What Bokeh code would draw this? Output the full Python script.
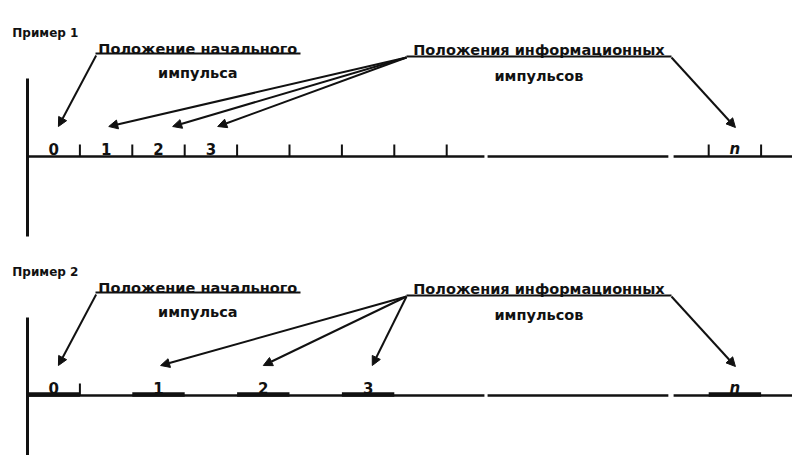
from bokeh.plotting import figure
from bokeh.models import Range1d, Arrow, NormalHead
from bokeh.embed import file_html
from bokeh.resources import INLINE
from bokeh.core.properties import value

# ---- data (x in pulse-slot units, y in panel pixels) ----
titles = ["Пример 1", "Пример 2"]
start_text = ["Положение начального", "импульса"]
info_text = ["Положения информационных", "импульсов"]
pulse_labels = ["0", "1", "2", "3", "n"]
ex1_pulse_slots = [0, 1, 2, 3, 13]
ex1_tick_slots = [1, 2, 3, 4, 5, 6, 7, 8, 13, 14]
ex2_pulse_slots = [0, 2, 4, 6, 13]
ex2_tick_slots = [1]
axis_breaks = [(8.72, 8.78), (12.23, 12.33)]
axis_end = 15.5
panel_offsets = [0, 239]

FONT = value("DejaVu Sans")
INK = "#111111"
SLOT = 52.4
X0 = 27

p = figure(width=792, height=455, x_range=Range1d(-X0 / SLOT, (792 - X0) / SLOT),
           y_range=Range1d(455, 0), min_border=0, toolbar_location=None,
           output_backend="svg", x_axis_location=None, y_axis_location=None)
p.grid.visible = False
p.outline_line_color = None
p.background_fill_color = "white"


def draw_panel(dy, title, pulse_slots, tick_slots, thick, arrow_ends_x, arrow_ends_y):
    base = 156 + dy
    # vertical axis
    p.segment(x0=[0], y0=[78 + dy], x1=[0], y1=[236 + dy], line_width=3, line_color=INK)
    # baseline with breaks
    xs0 = [0] + [b[1] for b in axis_breaks]
    xs1 = [b[0] for b in axis_breaks] + [axis_end]
    p.segment(x0=xs0, y0=[base] * len(xs0), x1=xs1, y1=[base] * len(xs1),
              line_width=2.6, line_color=INK)
    # ticks
    p.segment(x0=tick_slots, y0=[base] * len(tick_slots), x1=tick_slots,
              y1=[base - 12] * len(tick_slots), line_width=2, line_color=INK)
    # thick pulses
    if thick:
        p.segment(x0=pulse_slots, y0=[base - 1] * len(pulse_slots),
                  x1=[s + 1 for s in pulse_slots], y1=[base - 1] * len(pulse_slots),
                  line_width=4.5, line_color=INK)
    # pulse labels
    cx = [s + 0.5 for s in pulse_slots]
    p.text(x=cx[:-1], y=[base - 8] * (len(cx) - 1), text=pulse_labels[:-1],
           text_font=FONT, text_font_style="bold", text_font_size="15px",
           text_align="center", text_baseline="alphabetic", text_color=INK)
    p.text(x=cx[-1:], y=[base - 8], text=pulse_labels[-1:],
           text_font=FONT, text_font_style="bold italic", text_font_size="15px",
           text_align="center", text_baseline="alphabetic", text_color=INK)
    # title
    p.text(x=[-0.29], y=[32 + dy], text=[title], text_font=FONT,
           text_font_style="bold", text_font_size="12px", text_align="left",
           text_baseline="alphabetic", text_color=INK)
    # start pulse annotation
    p.text(x=[3.25], y=[48 + dy], text=[start_text[0]], text_font=FONT,
           text_font_style="bold", text_font_size="14.5px", text_align="center",
           text_baseline="alphabetic", text_color=INK)
    p.segment(x0=[1.298], y0=[53 + dy], x1=[5.21], y1=[53 + dy], line_width=2, line_color=INK)
    p.text(x=[3.25], y=[72 + dy], text=[start_text[1]], text_font=FONT,
           text_font_style="bold", text_font_size="14.5px", text_align="center",
           text_baseline="alphabetic", text_color=INK)
    # info pulses annotation
    p.text(x=[9.76], y=[49 + dy], text=[info_text[0]], text_font=FONT,
           text_font_style="bold", text_font_size="14.5px", text_align="center",
           text_baseline="alphabetic", text_color=INK)
    p.segment(x0=[7.233], y0=[56 + dy], x1=[12.29], y1=[56 + dy], line_width=2, line_color=INK)
    p.text(x=[9.76], y=[75 + dy], text=[info_text[1]], text_font=FONT,
           text_font_style="bold", text_font_size="14.5px", text_align="center",
           text_baseline="alphabetic", text_color=INK)

    def arrow(x0, y0, x1, y1):
        p.add_layout(Arrow(end=NormalHead(size=9, fill_color=INK, line_color=INK, line_width=1),
                           x_start=x0, y_start=y0, x_end=x1, y_end=y1,
                           line_width=2, line_color=INK))

    # start pulse arrow
    arrow(1.31, 55 + dy, 0.59, 126 + dy)
    # info arrows
    for ex, ey in zip(arrow_ends_x, arrow_ends_y):
        arrow(7.233, 57 + dy, ex, ey + dy)
    # last pulse arrow
    arrow(12.29, 57 + dy, 13.51, 127 + dy)


draw_panel(panel_offsets[0], titles[0], ex1_pulse_slots, ex1_tick_slots, False,
           [1.55, 2.77, 3.63], [126, 126, 126])
draw_panel(panel_offsets[1], titles[1], ex2_pulse_slots, ex2_tick_slots, True,
           [2.54, 4.5, 6.58], [126, 126, 126])

open("out.html", "w").write(file_html(p, INLINE))
